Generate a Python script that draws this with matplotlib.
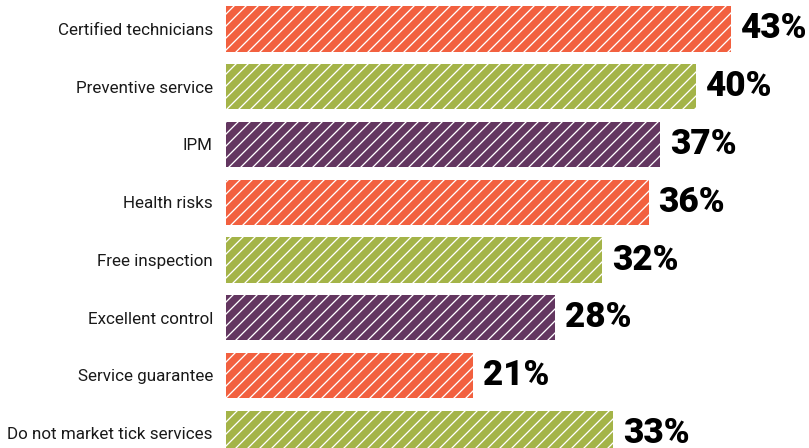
import matplotlib
matplotlib.use("Agg")
import matplotlib.pyplot as plt

categories = [
    "Certified technicians",
    "Preventive service",
    "IPM",
    "Health risks",
    "Free inspection",
    "Excellent control",
    "Service guarantee",
    "Do not market tick services",
]
values = [43, 40, 37, 36, 32, 28, 21, 33]
bar_colors = ["#F2603F", "#A4B448", "#633660", "#F2603F",
              "#A4B448", "#633660", "#F2603F", "#A4B448"]

plt.rcParams["hatch.linewidth"] = 1.3
plt.rcParams["font.family"] = ["Roboto", "DejaVu Sans"]

DPI = 72
fig = plt.figure(figsize=(809 / DPI, 448 / DPI), dpi=DPI)
ax = fig.add_axes([226 / 809, 0, 1 - 226 / 809, 1])

pos = list(range(len(categories)))
ax.barh(pos, values, height=0.78, color=bar_colors, edgecolor="white",
        linewidth=0, hatch="//")

ax.set_xlim(0, 583 / 11.74)
ax.set_ylim((448 - 29) / 57.75, -29 / 57.75)

ax.set_yticks(pos)
ax.set_yticklabels(categories, fontsize=17, color="#1a1a1a")
ax.tick_params(axis="y", length=0, pad=13)
ax.set_xticks([])
for s in ax.spines.values():
    s.set_visible(False)

for p, v in zip(pos, values):
    ax.text(v + 0.85, p, f"{v}%", va="center", ha="left", fontsize=35,
            fontweight=900, color="black")

fig.savefig("out.png", dpi=DPI)
